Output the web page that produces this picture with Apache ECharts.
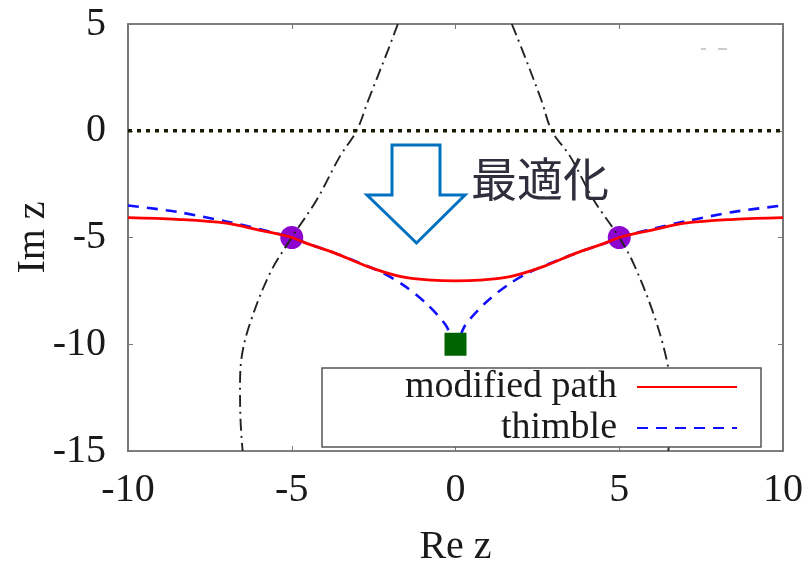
<!DOCTYPE html>
<html>
<head>
<meta charset="utf-8">
<script src="https://cdn.jsdelivr.net/npm/echarts@6/dist/echarts.min.js"></script>
<style>
  html, body { margin: 0; padding: 0; background: #ffffff; }
  #chart { width: 805px; height: 562px; }
</style>
</head>
<body>
<div id="chart"></div>
<script>
// Axis ranges and tick spacing
const xRange = [-10, 10];
const yRange = [-15, 5];
const tickStep = 5;

// Modified integration path (solid red)
const modifiedX = [-10, -8.5, -7, -6, -5, -4.5, -3.7, -2.7, -1.7, -0.7, 0, 0.7, 1.7, 2.7, 3.7, 4.5, 5, 6, 7, 8.5, 10];
const modifiedY = [-4.07, -4.15, -4.33, -4.65, -5.0, -5.3, -5.72, -6.35, -6.82, -7.0, -7.03, -7.0, -6.82, -6.35, -5.72, -5.3, -5.0, -4.65, -4.33, -4.15, -4.07];

// Lefschetz thimble (dashed blue)
const thimbleX = [-10, -8.5, -7, -6, -5, -4.5, -3.7, -2.3, -1.6, -0.9, -0.3, 0, 0.3, 0.9, 1.6, 2.3, 3.7, 4.5, 5, 6, 7, 8.5, 10];
const thimbleY = [-3.5, -3.8, -4.25, -4.6, -5.0, -5.3, -5.72, -6.6, -7.22, -8.08, -9.1, -10, -9.1, -8.08, -7.22, -6.6, -5.72, -5.3, -5.0, -4.6, -4.25, -3.8, -3.5];

// Dash-dot boundary curves (left and right branches)
const leftCurveX = [-1.76, -2.06, -2.66, -3.02, -3.53, -4.24, -5.0, -5.66, -6.27, -6.53, -6.58, -6.56, -6.5];
const leftCurveY = [5, 3.78, 1.44, 0, -1.2, -3.24, -5.0, -6.66, -9.0, -10.6, -12.14, -13.69, -15];
const rightCurveX = [1.72, 2.04, 2.62, 2.94, 3.5, 4.22, 5.0, 5.43, 6.04, 6.45, 6.56, 6.55, 6.5];
const rightCurveY = [5, 3.78, 1.44, 0, -1.2, -3.24, -5.0, -6.2, -8.55, -10.74, -12.14, -13.69, -15];

// Real axis reference line (dotted)
const zeroLineX = [-10, 10];
const zeroLineY = [0, 0];

// Marked points
const crossingX = [-5, 5];
const crossingY = [-5, -5];
const saddleX = [0];
const saddleY = [-10];

const pairs = (xs, ys) => xs.map((x, i) => [x, ys[i]]);

const serif = 'Liberation Serif';
const ink = '#1a1a1a';
const frame = '#555555';

const chart = echarts.init(document.getElementById('chart'), null, { renderer: 'canvas' });

const baseAxis = {
  type: 'value',
  interval: tickStep,
  splitLine: { show: false },
  axisLine: { show: true, onZero: false, lineStyle: { color: frame, width: 1.6 } },
  axisTick: { show: true, inside: true, length: 5, lineStyle: { color: '#777', width: 1 } }
};

const option = {
  animation: false,
  backgroundColor: '#ffffff',
  grid: { left: 128, right: 22, top: 24, bottom: 111, containLabel: false, outerBoundsMode: 'none' },
  xAxis: [
    Object.assign({}, baseAxis, {
      min: xRange[0], max: xRange[1], position: 'bottom',
      axisLabel: { margin: 19, fontFamily: serif, fontSize: 40, color: ink },
      name: 'Re z', nameLocation: 'middle', nameGap: 76, nameMoveOverlap: false,
      nameTextStyle: { fontFamily: serif, fontSize: 40, color: ink }
    }),
    Object.assign({}, baseAxis, {
      min: xRange[0], max: xRange[1], position: 'top',
      axisLabel: { show: false }
    })
  ],
  yAxis: [
    Object.assign({}, baseAxis, {
      min: yRange[0], max: yRange[1], position: 'left',
      axisLabel: { margin: 22, fontFamily: serif, fontSize: 40, color: ink },
      name: 'Im z', nameLocation: 'middle', nameGap: 75, nameRotate: 90, nameMoveOverlap: false,
      nameTextStyle: { fontFamily: serif, fontSize: 40, color: ink }
    }),
    Object.assign({}, baseAxis, {
      min: yRange[0], max: yRange[1], position: 'right',
      axisLabel: { show: false }
    })
  ],
  legend: {
    data: ['modified path', 'thimble'],
    orient: 'vertical',
    left: 322,
    top: 368,
    align: 'right',
    itemWidth: 100,
    itemHeight: 4,
    itemGap: 3,
    padding: [0, 23, 0, 20],
    backgroundColor: '#ffffff',
    borderColor: frame,
    borderWidth: 1.5,
    borderRadius: 0,
    selectedMode: false,
    itemStyle: { opacity: 0 },
    formatter: name => '{t|' + name + '}',
    textStyle: {
      fontFamily: serif, fontSize: 38, lineHeight: 34,
      rich: {
        t: { width: 275, height: 34, padding: [0, 15, 0, 0], align: 'right', fontFamily: serif, fontSize: 38, lineHeight: 34, color: ink }
      }
    }
  },
  series: [
    {
      name: 'critical crossings',
      type: 'scatter',
      data: pairs(crossingX, crossingY),
      symbol: 'circle',
      symbolSize: 23,
      itemStyle: { color: '#8e05d0', opacity: 1 },
      z: 1
    },
    {
      name: 'boundary left',
      type: 'line',
      data: pairs(leftCurveX, leftCurveY),
      showSymbol: false, symbol: 'none',
      smooth: 0.35,
      lineStyle: { color: '#222222', width: 1.9, type: [12, 5, 2, 5] },
      z: 2
    },
    {
      name: 'boundary right',
      type: 'line',
      data: pairs(rightCurveX, rightCurveY),
      showSymbol: false, symbol: 'none',
      smooth: 0.35,
      lineStyle: { color: '#222222', width: 1.9, type: [12, 5, 2, 5] },
      z: 2
    },
    {
      name: 'real axis',
      type: 'line',
      data: pairs(zeroLineX, zeroLineY),
      showSymbol: false, symbol: 'none',
      lineStyle: { color: '#1a1a05', width: 3.5, type: [4, 5] },
      z: 2
    },
    {
      name: 'thimble',
      type: 'line',
      data: pairs(thimbleX, thimbleY),
      showSymbol: false, symbol: 'none',
      smooth: 0.3,
      itemStyle: { color: '#1010ff' },
      lineStyle: { color: '#1010ff', width: 2.6, type: [11, 8] },
      z: 3
    },
    {
      name: 'modified path',
      type: 'line',
      data: pairs(modifiedX, modifiedY),
      showSymbol: false, symbol: 'none',
      smooth: 0.35,
      itemStyle: { color: '#ff0000' },
      lineStyle: { color: '#ff0000', width: 2.8 },
      z: 4
    },
    {
      name: 'saddle point',
      type: 'scatter',
      data: pairs(saddleX, saddleY),
      symbol: 'rect',
      symbolSize: [22, 23],
      itemStyle: { color: '#006400', opacity: 1 },
      z: 5
    }
  ],
  graphic: [
    {
      // hollow down arrow marking the optimisation step
      type: 'polygon',
      shape: {
        points: [[392, 145], [440, 145], [440, 195], [465, 195], [416.5, 243], [367, 195], [392, 195]]
      },
      style: { fill: 'none', stroke: '#0070c0', lineWidth: 3, lineJoin: 'miter' },
      z: 10
    },
    {
      type: 'text',
      left: 471,
      top: 156,
      style: {
        text: '最適化',
        fontFamily: 'Noto Sans CJK JP',
        fontSize: 46,
        fill: '#2e2e3c'
      },
      z: 10
    },
    {
      type: 'line',
      shape: { x1: 701, y1: 49, x2: 706, y2: 49 },
      style: { stroke: '#bbbbbb', lineWidth: 1.5 },
      z: 10
    },
    {
      type: 'line',
      shape: { x1: 718, y1: 49, x2: 727, y2: 49 },
      style: { stroke: '#bbbbbb', lineWidth: 1.5 },
      z: 10
    }
  ]
};

chart.setOption(option);
</script>
</body>
</html>
